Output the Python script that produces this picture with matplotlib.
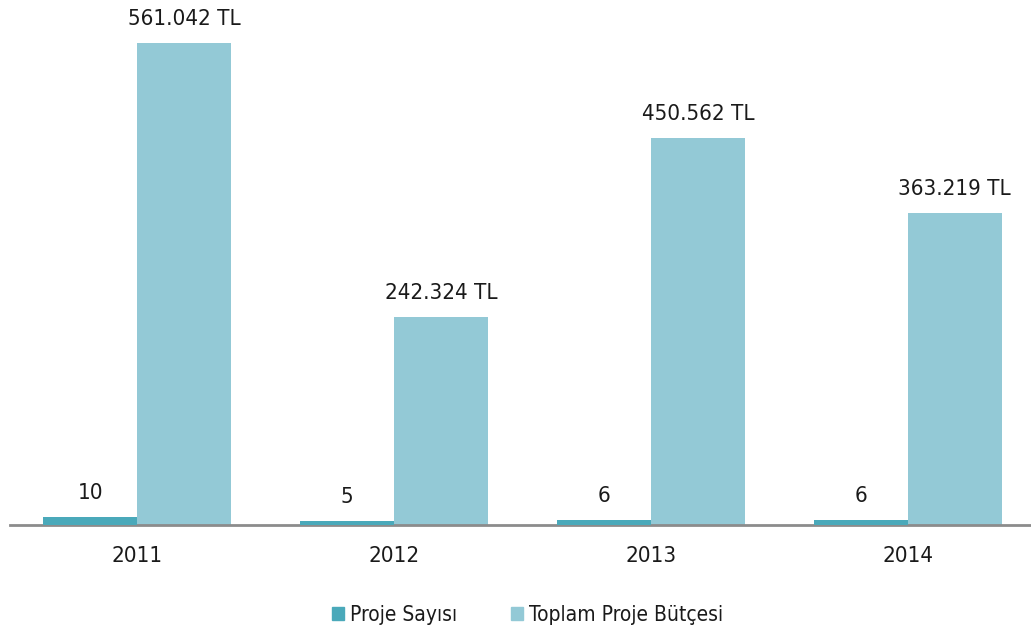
import matplotlib
matplotlib.use("Agg")
import numpy as np
import matplotlib.pyplot as plt
from matplotlib.patches import Patch

years = ["2011", "2012", "2013", "2014"]
proje_sayisi = [10, 5, 6, 6]
toplam_butce = [561042, 242324, 450562, 363219]

c_sayi = "#4aa9ba"
c_butce = "#93c9d6"

plt.rcParams["font.family"] = ["DejaVu Sans"]
plt.rcParams["font.stretch"] = "condensed"

fig = plt.figure(figsize=(10.31, 6.39), dpi=100)
ax = fig.add_axes([0.01, 0.178, 0.99, 0.822])
ax2 = ax.twinx()

x = np.arange(len(years))
w = 0.366

b2 = ax.bar(x + w / 2, toplam_butce, w, color=c_butce)
ytop = 611000
ax.set_ylim(0, ytop)
# count series on its own (hidden) scale
b1 = ax2.bar(x - w / 2, proje_sayisi, w, color=c_sayi)
ax2.set_ylim(0, ytop / 1000)

def fmt_tl(v):
    return f"{v:,}".replace(",", ".") + " TL"

for xi, v in zip(x, toplam_butce):
    ax.annotate(fmt_tl(v), (xi + w / 2, v), xytext=(0, 10), textcoords="offset points",
                ha="center", va="bottom", fontsize=16, color="#1a1a1a")
for xi, v in zip(x, proje_sayisi):
    ax2.annotate(str(v), (xi - w / 2, v), xytext=(0, 10), textcoords="offset points",
                 ha="center", va="bottom", fontsize=16, color="#1a1a1a")

for a in (ax, ax2):
    a.set_xlim(-0.494, 3.48)
    for s in ["top", "right", "left"]:
        a.spines[s].set_visible(False)
    a.set_yticks([])
ax2.spines["bottom"].set_visible(False)
ax.spines["bottom"].set_color("#8c8c8c")
ax.spines["bottom"].set_linewidth(2)

ax.set_xticks(x)
ax.set_xticklabels(years, fontsize=16, color="#1a1a1a")
ax.tick_params(axis="x", length=0, pad=15)

handles = [Patch(color=c_sayi), Patch(color=c_butce)]
fig.legend(handles, ["Proje Sayısı", "Toplam Proje Bütçesi"], loc="center",
           bbox_to_anchor=(0.512, 0.038), ncol=2, frameon=False, fontsize=15,
           handlelength=0.55, handleheight=0.55, handletextpad=0.3, columnspacing=2.6,
           labelcolor="#1a1a1a")

fig.savefig("out.png", dpi=100)
